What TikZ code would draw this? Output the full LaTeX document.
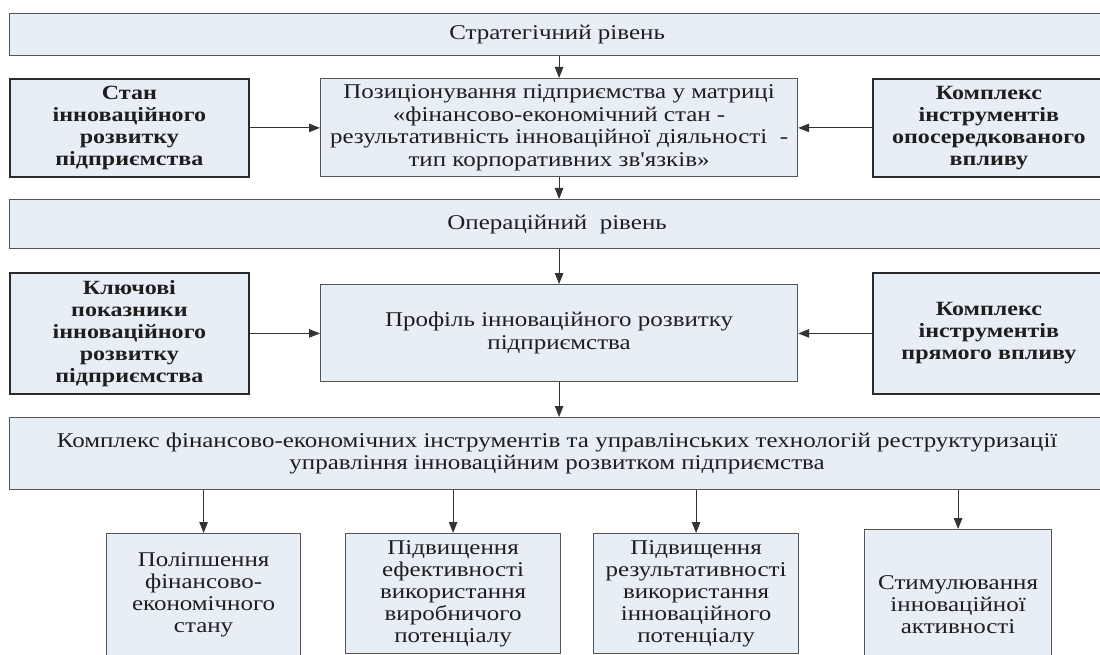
\documentclass[tikz,border=0pt]{standalone}
\usepackage{fontspec}
\setmainfont{Liberation Serif}[FakeStretch=1.19,Ligatures=TeXOff]
\usetikzlibrary{arrows.meta}
\definecolor{boxfill}{HTML}{E7EEF6}
\definecolor{boxline}{HTML}{555555}
\definecolor{boldline}{HTML}{2A2A2A}
\definecolor{txt}{HTML}{1E1E1E}
\begin{document}
\begin{tikzpicture}[x=1pt,y=-1pt,
  box/.style={draw=boxline, fill=boxfill, line width=1.2pt, inner sep=0pt,
    anchor=north west, align=center, text=txt, font=\fontsize{21}{22.5}\selectfont},
  boldbox/.style={box, draw=boldline, line width=1.8pt, font=\fontsize{20.2}{22}\selectfont\bfseries},
  lowbox/.style={box, font=\fontsize{21}{22}\selectfont},
  arr/.style={draw=black!80, line width=1pt, -{Triangle[length=11pt,width=8.5pt]}}
]
\useasboundingbox (0,0) rectangle (1100,655);
\clip (0,0) rectangle (1100,655);
\fill[white] (0,0) rectangle (1100,655);

\node[box, minimum width=1095, minimum height=42] (strat) at (9,13) {Стратегічний рівень};
\node[boldbox, minimum width=239, minimum height=98] (left1) at (9,78)
  {Стан\\інноваційного\\розвитку\\підприємства};
\node[box, minimum width=477, minimum height=98] (pos) at (320,78)
  {Позиціонування підприємства у матриці\\«фінансово-економічний стан -\\результативність інноваційної діяльності\ \ -\\тип корпоративних зв'язків»};
\node[boldbox, minimum width=232, minimum height=98] (right1) at (872,78)
  {Комплекс\\інструментів\\опосередкованого\\впливу};

\node[box, minimum width=1095, minimum height=49] (oper) at (9,199) {Операційний\ \ рівень};
\node[boldbox, minimum width=239, minimum height=121] (left2) at (9,272)
  {Ключові\\показники\\інноваційного\\розвитку\\підприємства};
\node[box, minimum width=477, minimum height=97] (prof) at (320,284)
  {Профіль інноваційного розвитку\\підприємства};
\node[boldbox, minimum width=232, minimum height=121] (right2) at (872,272)
  {Комплекс\\інструментів\\прямого впливу};

\node[box, minimum width=1095, minimum height=72] (compl) at (9,417)
  {Комплекс фінансово-економічних інструментів та управлінських технологій реструктуризації\\управління інноваційним розвитком підприємства};

\node[lowbox, minimum width=194, minimum height=122] (b1) at (106,533)
  {Поліпшення\\фінансово-\\економічного\\стану};
\node[lowbox, minimum width=215, minimum height=120] (b2) at (345,533)
  {Підвищення\\ефективності\\використання\\виробничого\\потенціалу};
\node[lowbox, minimum width=205, minimum height=120] (b3) at (593,533)
  {Підвищення\\результативності\\використання\\інноваційного\\потенціалу};
\node[lowbox, minimum width=187, minimum height=150] (b4) at (864,529)
  {Стимулювання\\інноваційної\\активності};

\draw[arr] (strat.south -| pos.north) -- (pos.north);
\draw[arr] (pos.south) -- (pos.south |- oper.north);
\draw[arr] (oper.south -| prof.north) -- (prof.north);
\draw[arr] (prof.south) -- (prof.south |- compl.north);
\draw[arr] (left1.east) -- (left1.east -| pos.west);
\draw[arr] (right1.west) -- (right1.west -| pos.east);
\draw[arr] (left2.east) -- (left2.east -| prof.west);
\draw[arr] (right2.west) -- (right2.west -| prof.east);
\draw[arr] (compl.south -| b1.north) -- (b1.north);
\draw[arr] (compl.south -| b2.north) -- (b2.north);
\draw[arr] (compl.south -| b3.north) -- (b3.north);
\draw[arr] (compl.south -| b4.north) -- (b4.north);
\end{tikzpicture}
\end{document}
